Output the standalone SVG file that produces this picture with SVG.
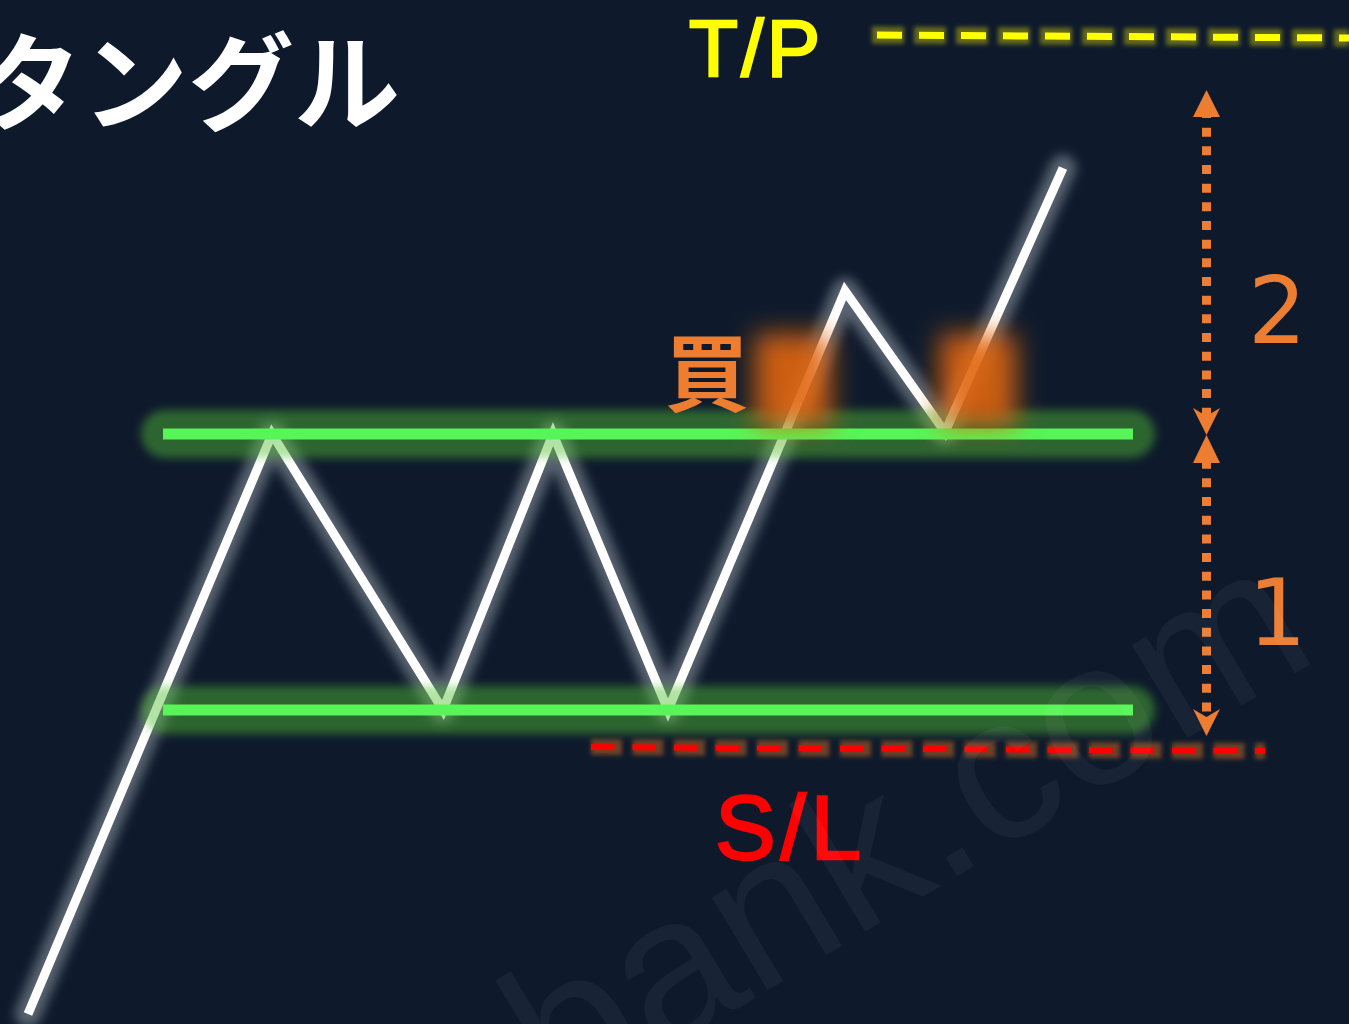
<svg xmlns="http://www.w3.org/2000/svg" width="1349" height="1024" viewBox="0 0 1349 1024">
  <defs>
    <filter id="blur5" filterUnits="userSpaceOnUse" x="0" y="0" width="1349" height="1024"><feGaussianBlur stdDeviation="4.5"/></filter>
    <filter id="blur4" filterUnits="userSpaceOnUse" x="0" y="0" width="1349" height="1024"><feGaussianBlur stdDeviation="5.5"/></filter>
    <filter id="blur2" filterUnits="userSpaceOnUse" x="0" y="0" width="1349" height="1024"><feGaussianBlur stdDeviation="2"/></filter>
    <filter id="blurBlob" filterUnits="userSpaceOnUse" x="0" y="0" width="1349" height="1024"><feGaussianBlur stdDeviation="13"/></filter>
    <style>
      .bg { fill: #0e1a2c; }
      .jp { font-family: "Noto Sans CJK JP", "Noto Sans CJK SC", sans-serif; font-weight: 700; }
      .lat { font-family: "Liberation Sans", Arial, sans-serif; }
      .num { font-family: "DejaVu Sans", "Liberation Sans", sans-serif; fill: #ed7d31; font-size: 92px; }
      .green { stroke: #57f557; stroke-width: 11; fill: none; }
      .greenGlow { stroke: #55c038; stroke-width: 48; stroke-opacity: 0.45; stroke-linecap: round; fill: none; }
      .price { stroke: #ffffff; stroke-width: 9; fill: none; stroke-linejoin: miter; stroke-miterlimit: 10; }
      .priceGlow { stroke: #c0c8d0; stroke-width: 26; stroke-opacity: 0.42; fill: none; stroke-linejoin: round; stroke-linecap: round; }
      .arrowShaft { stroke: #ed7d31; stroke-width: 9; stroke-dasharray: 9 9.67; fill: none; }
      .arrowHead { fill: #ed7d31; }
      .blob { fill: #e0650a; fill-opacity: 0.9; }
    </style>
  </defs>

  <rect class="bg" x="0" y="0" width="1349" height="1024"/>

  <!-- title -->
  <g id="title">
    <text class="jp" x="-24" y="122" font-size="106" fill="#ffffff">タングル</text>
  </g>

  <!-- take profit line -->
  <g id="tp-line">
    <line x1="872" y1="35" x2="1349" y2="38" stroke="#e8e000" stroke-opacity="0.4" stroke-width="17" stroke-dasharray="32 10" filter="url(#blur2)"/>
    <line x1="877" y1="35" x2="1349" y2="38" stroke="#ffff00" stroke-width="7" stroke-dasharray="25 17"/>
  </g>
  <g id="tp-label">
    <text class="lat" x="689" y="76" font-size="80" fill="#ffff00" stroke="#ffff00" stroke-width="2.5" textLength="131" lengthAdjust="spacing">T/P</text>
  </g>

  <!-- price path -->
  <g id="price">
    <polyline class="priceGlow" filter="url(#blur4)" points="28,1014 272,434 443,710 553,434 668,710 845,291 945,432 1063,168"/>
    <polyline class="price" points="28,1014 272,434 443,710 553,434 668,710 845,291 945,432 1063,168"/>
  </g>

  <!-- resistance line -->
  <g id="resistance">
    <line class="greenGlow" x1="165" y1="434" x2="1131" y2="434" filter="url(#blur5)"/>
    <line class="green" x1="163" y1="434" x2="1133" y2="434"/>
  </g>

  <!-- support line -->
  <g id="support">
    <line class="greenGlow" x1="165" y1="710" x2="1131" y2="710" filter="url(#blur5)"/>
    <line class="green" x1="163" y1="710" x2="1133" y2="710"/>
  </g>

  <!-- stop loss line -->
  <g id="sl-line">
    <line x1="591" y1="747" x2="1265" y2="751" stroke="#e0701e" stroke-opacity="0.45" stroke-width="16" stroke-dasharray="31 10.5" filter="url(#blur2)"/>
    <line x1="591" y1="747" x2="1265" y2="751" stroke="#ff0000" stroke-width="6" stroke-dasharray="23.5 18"/>
  </g>
  <g id="sl-label">
    <text class="lat" x="715" y="859" font-size="91" fill="#ff0000" stroke="#ff0000" stroke-width="2.5" textLength="146" lengthAdjust="spacing">S/L</text>
  </g>

  <!-- entry highlights -->
  <g id="entry-1">
    <rect class="blob" x="755" y="334" width="76" height="92" filter="url(#blurBlob)"/>
  </g>
  <g id="entry-2">
    <rect class="blob" x="940" y="334" width="76" height="92" filter="url(#blurBlob)"/>
  </g>

  <g id="buy-label">
    <text class="jp" x="665" y="405" font-size="84" fill="#ed7d31">買</text>
  </g>

  <!-- connectors: ratio arrows -->
  <g id="connectors">
    <line class="arrowShaft" x1="1206.5" y1="109" x2="1206.5" y2="416"/>
    <polygon class="arrowHead" points="1206.5,90 1220,117 1193,117"/>
    <polygon class="arrowHead" points="1193,408 1206.5,416 1220,408 1206.5,435"/>
    <line class="arrowShaft" x1="1206.5" y1="459.7" x2="1206.5" y2="716"/>
    <polygon class="arrowHead" points="1206.5,435 1220,463 1193,463"/>
    <polygon class="arrowHead" points="1193,709 1206.5,717 1220,709 1206.5,736"/>
  </g>

  <g id="label-2">
    <text class="num" x="1248" y="343">2</text>
  </g>
  <g id="label-1">
    <text class="num" x="1248" y="645">1</text>
  </g>

  <!-- watermark -->
  <text class="lat" transform="translate(560 1115) rotate(-31)" x="0" y="0" font-size="205" fill="#ffffff" fill-opacity="0.045">bank.com</text>
</svg>
